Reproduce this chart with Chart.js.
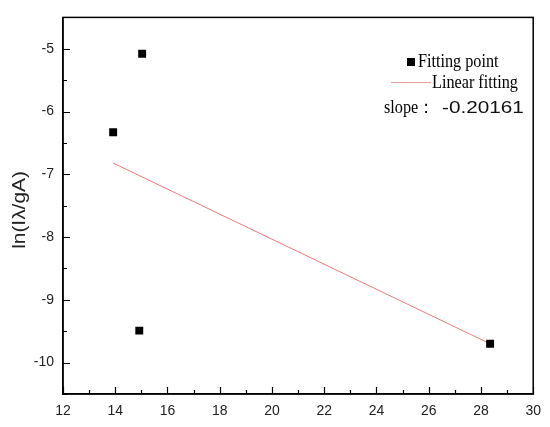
<!DOCTYPE html>
<html>
<head>
<meta charset="utf-8">
<script src="https://cdn.jsdelivr.net/npm/chart.js@4.4.1/dist/chart.umd.min.js"></script>
<style>
  html, body { margin: 0; padding: 0; background: #fff; }
  #wrap { width: 550px; height: 427px; }
</style>
</head>
<body>
<div id="wrap"><canvas id="myChart" width="550" height="427"></canvas></div>
<script>
// measured points
const pointX = [13.92, 15.03, 14.92, 28.35];
const pointY = [-6.33, -5.08, -9.49, -9.70];
// fitted line end points
const fitX = [13.92, 28.35];
const fitY = [-6.82, -9.70];
const slopeText = '-0.20161';
const yTitle = 'ln(Iλ/gA)';
const xTicks = [12, 14, 16, 18, 20, 22, 24, 26, 28, 30];
const yTicks = [-5, -6, -7, -8, -9, -10];

const toXY = (xs, ys) => xs.map((x, i) => ({ x: x, y: ys[i] }));

// frame, inward ticks, y title and legend
const extras = {
    id: 'extras',
    afterDraw: (chart) => {
        const c = chart.ctx;
        const a = chart.chartArea;
        const sx = chart.scales.x;
        const sy = chart.scales.y;
        c.save();
        c.strokeStyle = '#000';
        c.lineWidth = 1.5;
        c.strokeRect(a.left, a.top, a.right - a.left, a.bottom - a.top);

        c.lineWidth = 1.2;
        c.beginPath();
        for (let v = 12; v <= 30; v += 1) {
            const px = Math.round(sx.getPixelForValue(v)) + 0.5;
            const len = v % 2 === 0 ? 7 : 4;
            c.moveTo(px, a.bottom);
            c.lineTo(px, a.bottom - len);
        }
        for (let v = -10.5; v <= -4.5; v += 0.5) {
            const py = Math.round(sy.getPixelForValue(v)) + 0.5;
            const len = Number.isInteger(v) ? 7 : 4;
            c.moveTo(a.left, py);
            c.lineTo(a.left + len, py);
        }
        c.stroke();

        // y title (stretched along the text like the original)
        c.save();
        c.translate(20, 210);
        c.rotate(-Math.PI / 2);
        c.scale(1.16, 1);
        c.fillStyle = '#222';
        c.font = '18px "Liberation Sans"';
        c.textAlign = 'center';
        c.textBaseline = 'middle';
        c.fillText(yTitle, 0, 0);
        c.restore();

        // legend
        c.fillStyle = '#000';
        c.fillRect(407, 58, 8, 8);
        c.textBaseline = 'alphabetic';
        c.textAlign = 'left';

        c.save();
        c.scale(0.9, 1);
        c.font = '18px "Liberation Serif"';
        c.fillText('Fitting point', 418 / 0.9, 67);
        c.fillText('Linear fitting', 432 / 0.9, 88);
        c.fillText('slope：', 384 / 0.9, 113);
        c.restore();

        c.strokeStyle = 'rgb(232,160,160)';
        c.lineWidth = 1.2;
        c.beginPath();
        c.moveTo(391, 82.5);
        c.lineTo(431, 82.5);
        c.stroke();

        c.save();
        c.translate(442, 113);
        c.scale(1.22, 1);
        c.fillStyle = '#111';
        c.font = '17px "Liberation Sans"';
        c.fillText(slopeText, 0, 0);
        c.restore();
        c.restore();
    }
};

const ctx = document.getElementById('myChart');

new Chart(ctx, {
    type: 'scatter',
    data: {
        datasets: [{
            label: 'Fitting point',
            data: toXY(pointX, pointY),
            pointStyle: 'rect',
            pointRadius: 5.6,
            backgroundColor: '#000',
            borderColor: '#000',
            borderWidth: 0
        }, {
            label: 'Linear fitting',
            type: 'line',
            data: toXY(fitX, fitY),
            borderColor: 'rgb(238,120,120)',
            borderWidth: 1,
            pointRadius: 0,
            fill: false
        }]
    },
    options: {
        responsive: false,
        animation: false,
        layout: { padding: { top: 16, right: 16, left: 0, bottom: 0 } },
        plugins: {
            legend: { display: false },
            tooltip: { enabled: false }
        },
        scales: {
            x: {
                type: 'linear',
                min: 12,
                max: 30,
                afterFit: (scale) => { scale.height = 33; },
                afterBuildTicks: (scale) => { scale.ticks = xTicks.map(v => ({ value: v })); },
                border: { color: '#000', width: 1.5 },
                grid: { display: false, drawTicks: false },
                ticks: { color: '#222', padding: 9, font: { family: '"Liberation Sans"', size: 14 } }
            },
            y: {
                type: 'linear',
                min: -10.5,
                max: -4.5,
                afterFit: (scale) => { scale.width = 63; },
                afterBuildTicks: (scale) => { scale.ticks = yTicks.map(v => ({ value: v })); },
                border: { color: '#000', width: 1.5 },
                grid: { display: false, drawTicks: false },
                ticks: { color: '#222', padding: 9, font: { family: '"Liberation Sans"', size: 14 } }
            }
        }
    },
    plugins: [extras]
});
</script>
</body>
</html>
